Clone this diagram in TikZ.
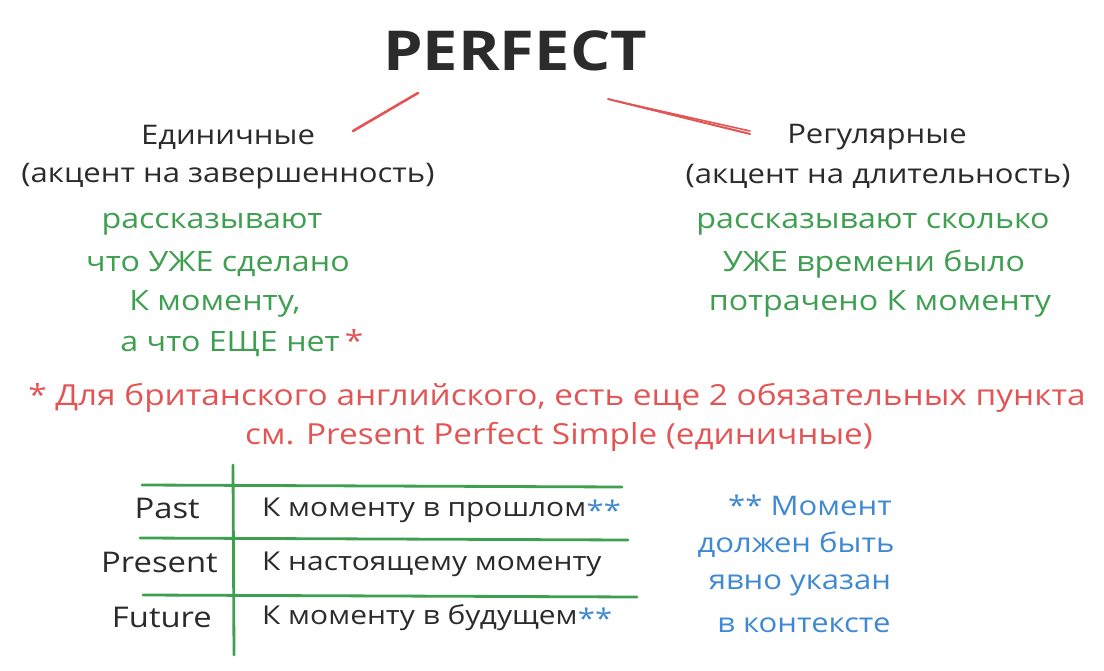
\documentclass[tikz,border=0pt]{standalone}
\usepackage{fontspec}
\usetikzlibrary{calc}
\setmainfont[FakeStretch=1.15]{Open Sans}
\definecolor{ink}{HTML}{2B2B2B}
\definecolor{grn}{HTML}{3E9F50}
\definecolor{rd}{HTML}{E35454}
\definecolor{blu}{HTML}{3F88D2}
\begin{document}
\begin{tikzpicture}[x=1pt,y=-1pt,
  txt/.style={font=\fontsize{27}{32}\selectfont, inner sep=0pt, anchor=center},
  dark/.style={txt, text=ink},
  tab/.style={txt, font=\fontsize{26}{30}\selectfont, text=ink},
  rowlab/.style={txt, font=\fontsize{28.5}{30}\selectfont, text=ink, anchor=east},
  gtxt/.style={txt, font=\fontsize{28}{32}\selectfont, text=grn},
  rtxt/.style={txt, font=\fontsize{29}{32}\selectfont, text=rd},
  btxt/.style={txt, text=blu},
  redline/.style={draw=rd, line width=2.6pt, line cap=round},
  tabline/.style={draw=grn, line width=2.8pt, line cap=round}]
\useasboundingbox (0,0) rectangle (1104,670);
% title
\node[text=ink, font=\fontsize{55}{60}\selectfont\bfseries, inner sep=0pt] (title) at (515,51) {PERFECT};
\coordinate (l1) at (418,93); \coordinate (l2) at (353,131);
\coordinate (r1) at (608,99); \coordinate (r2) at (750,134);
\draw[redline] (l1) -- (l2);
\draw[redline, line width=2pt] (r1) -- (r2);
\draw[redline, line width=1.6pt] ($(r1)+(8,2)$) -- ($(r2)+(0,-3)$);
% left block
\node[dark] (e1) at (228,137) {Единичные};
\node[dark] (e2) at (228,176) {(акцент на завершенность)};
\node[gtxt] (g1) at (212,224) {рассказывают};
\node[gtxt] (g2) at (218,264) {что УЖЕ сделано};
\node[gtxt] (g3) at (215,304) {К моменту,};
\node[gtxt, anchor=east] (g4) at (340,344) {а что ЕЩЕ нет};
\node[rtxt] (ast) at (354,340) {*};
% right block
\node[dark] (r1t) at (877,137) {Регулярные};
\node[dark] (r2t) at (878,176) {(акцент на длительность)};
\node[gtxt] (h1) at (873,224) {рассказывают сколько};
\node[gtxt] (h2) at (874,264) {УЖЕ времени было};
\node[gtxt] (h3) at (880,304) {потрачено К моменту};
% footnote
\node[rtxt] (f1) at (557,398) {* Для британского английского, есть еще 2 обязательных пункта};
\node[rtxt] (f2) at (559,437) {см. Present Perfect Simple (единичные)};
% table
\coordinate (vt) at (233,465); \coordinate (vb) at (234,655);
\draw[tabline] (vt) -- (vb);
\coordinate (a1) at (142,485); \coordinate (a2) at (622,487);
\coordinate (b1) at (140,538); \coordinate (b2) at (628,540);
\coordinate (c1) at (143,595); \coordinate (c2) at (637,597);
\draw[tabline] (a1) -- (a2);
\draw[tabline] (b1) -- (b2);
\draw[tabline] (c1) -- (c2);
\node[rowlab] (p1) at (200,508) {Past};
\node[rowlab] (p2) at (218,562) {Present};
\node[rowlab] (p3) at (212,617) {Future};
\node[tab, anchor=west] (q1) at (262,510) {К моменту в прошлом};
\node[btxt, anchor=west] (s1) at (q1.east) {**};
\node[tab, anchor=west] (q2) at (262,564) {К настоящему моменту};
\node[tab, anchor=west] (q3) at (262,618) {К моменту в будущем};
\node[btxt, anchor=west] (s3) at (q3.east) {**};
% blue note
\node[btxt] (n1) at (810,505) {** Момент};
\node[btxt] (n2) at (796,545) {должен быть};
\node[btxt] (n3) at (800,585) {явно указан};
\node[btxt] (n4) at (804,625) {в контексте};
\end{tikzpicture}
\end{document}
